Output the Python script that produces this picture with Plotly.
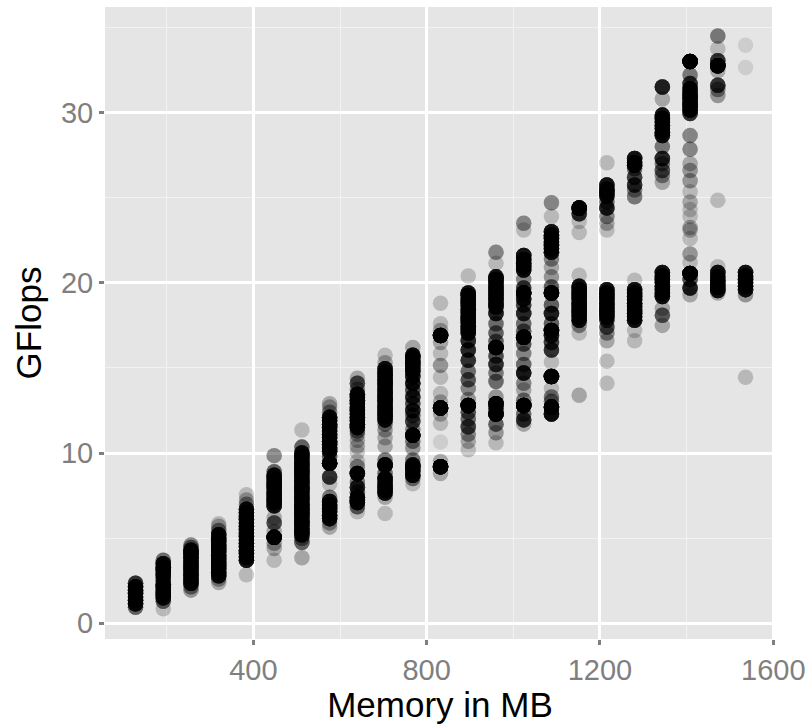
import plotly.graph_objects as go

X_TICKS = [400, 800, 1200, 1600]
Y_TICKS = [0, 10, 20, 30]

# Each column of the chart: GFlops levels, and how many configurations sit at each level.
Y_128 = [0.95, 1.15, 1.35, 1.55, 1.75, 1.95, 2.15, 2.35]
N_128 = [8, 22, 22, 22, 22, 22, 22, 14]
Y_192 = [0.85, 1.3, 1.5, 1.7, 1.9, 2.1, 2.3, 2.5, 2.7, 2.9, 3.1, 3.3, 3.5, 3.7]
N_192 = [2, 8, 22, 22, 22, 22, 22, 12, 12, 22, 22, 22, 22, 7]
Y_256 = [1.95, 2.15, 2.35, 2.55, 2.75, 2.95, 3.15, 3.35, 3.55, 3.75, 3.95, 4.15, 4.3, 4.45, 4.6]
N_256 = [4, 6, 22, 22, 22, 22, 22, 22, 22, 22, 22, 22, 22, 7, 5]
Y_320 = [2.4, 2.6, 2.8, 3.0, 3.2, 3.4, 3.6, 3.8, 4.0, 4.2, 4.4, 4.6, 4.8, 5.0, 5.2, 5.45, 5.7, 5.85]
N_320 = [3, 4, 22, 22, 22, 22, 22, 22, 22, 22, 22, 22, 22, 22, 22, 6, 3, 2]
Y_384 = [2.85, 3.7, 3.9, 4.1, 4.3, 4.5, 4.7, 4.9, 5.1, 5.3, 5.5, 5.7, 5.9, 6.1, 6.3, 6.5, 6.7, 7.0, 7.25, 7.55]
N_384 = [2, 22, 22, 22, 22, 22, 22, 22, 22, 22, 22, 22, 22, 22, 22, 22, 22, 5, 3, 2]
Y_448 = [3.7, 4.4, 4.7, 5.05, 5.4, 5.9, 6.2, 6.9, 7.1, 7.3, 7.5, 7.7, 7.9, 8.1, 8.3, 8.5, 8.7, 8.9, 9.85]
N_448 = [2, 3, 4, 44, 3, 10, 3, 22, 22, 22, 22, 22, 22, 22, 22, 22, 22, 8, 5]
Y_512 = [3.85, 4.75, 5.0, 5.2, 5.4, 5.6, 5.8, 6.0, 6.2, 6.4, 6.6, 6.8, 7.0, 7.2, 7.4, 7.6, 7.8, 8.0, 8.2, 8.4, 8.6, 8.8, 9.0, 9.2, 9.4, 9.6, 9.8, 10.0, 10.35, 11.35]
N_512 = [3, 8, 6, 22, 22, 22, 22, 22, 22, 22, 22, 22, 22, 22, 22, 22, 22, 22, 22, 22, 22, 22, 22, 22, 22, 22, 22, 22, 8, 2]
Y_576 = [5.65, 5.9, 6.15, 6.35, 6.55, 6.75, 6.95, 7.15, 7.4, 8.2, 8.6, 9.4, 9.8, 10.1, 10.3, 10.5, 10.7, 10.9, 11.1, 11.3, 11.5, 11.7, 11.9, 12.1, 12.4, 12.7, 12.9]
N_576 = [3, 4, 22, 22, 22, 22, 22, 22, 6, 2, 14, 40, 8, 22, 22, 22, 22, 22, 22, 22, 22, 22, 22, 22, 5, 3, 3]
Y_640 = [6.55, 6.85, 7.1, 7.25, 7.4, 7.7, 8.0, 8.3, 8.8, 9.2, 9.5, 10.05, 10.4, 10.75, 11.1, 11.3, 11.5, 11.7, 11.9, 12.1, 12.3, 12.5, 12.7, 12.9, 13.1, 13.3, 13.45, 13.75, 14.1, 14.4]
N_640 = [2, 8, 24, 24, 24, 8, 16, 6, 30, 5, 2, 2, 3, 3, 4, 7, 22, 22, 22, 22, 22, 22, 22, 22, 22, 22, 22, 5, 10, 3]
Y_704 = [6.45, 7.4, 7.65, 7.85, 8.05, 8.25, 8.5, 8.8, 9.3, 9.6, 10.4, 10.9, 11.35, 11.7, 11.95, 12.15, 12.35, 12.55, 12.75, 12.95, 13.15, 13.35, 13.55, 13.75, 13.95, 14.15, 14.35, 14.55, 14.75, 14.95, 15.3, 15.75]
N_704 = [2, 3, 22, 22, 22, 22, 30, 7, 40, 6, 3, 3, 4, 5, 22, 22, 22, 22, 22, 22, 22, 22, 22, 22, 22, 22, 22, 22, 22, 22, 3, 2]
Y_768 = [8.2, 8.5, 8.7, 8.95, 9.15, 9.3, 9.6, 10.3, 10.7, 11.05, 11.4, 11.85, 12.2, 12.5, 12.9, 13.3, 13.7, 14.1, 14.5, 14.8, 15.0, 15.2, 15.4, 15.6, 15.75, 16.2]
N_768 = [2, 6, 24, 22, 22, 24, 6, 4, 6, 40, 5, 12, 8, 16, 10, 16, 10, 20, 18, 22, 22, 22, 22, 22, 22, 3]
Y_832 = [8.8, 9.2, 9.5, 10.65, 11.75, 12.3, 12.65, 13.0, 13.5, 14.45, 15.15, 15.85, 16.5, 16.9, 17.2, 17.6, 18.8]
N_832 = [3, 50, 3, 1, 2, 3, 50, 3, 2, 2, 4, 2, 3, 50, 3, 2, 2]
Y_896 = [10.2, 10.7, 11.1, 11.55, 12.0, 12.4, 12.8, 13.15, 13.8, 14.3, 14.8, 15.45, 16.05, 16.6, 17.05, 17.25, 17.45, 17.65, 17.85, 18.05, 18.25, 18.45, 18.65, 18.85, 19.05, 19.25, 19.4, 20.4]
N_896 = [2, 3, 5, 12, 7, 9, 50, 4, 5, 9, 7, 14, 16, 16, 22, 22, 22, 22, 22, 22, 22, 22, 22, 22, 22, 22, 22, 2]
Y_960 = [10.6, 11.2, 11.7, 12.3, 12.6, 12.9, 13.3, 14.2, 14.7, 15.2, 15.7, 16.2, 16.55, 17.05, 17.6, 18.2, 18.6, 18.8, 19.0, 19.2, 19.4, 19.6, 19.8, 20.0, 20.2, 20.35, 21.15, 21.8]
N_960 = [2, 4, 8, 40, 16, 40, 4, 7, 6, 14, 10, 44, 8, 8, 7, 18, 22, 22, 22, 22, 22, 22, 22, 22, 22, 22, 2, 5]
Y_1024 = [11.7, 11.95, 12.3, 12.8, 13.1, 13.7, 14.1, 14.7, 15.2, 15.85, 16.4, 16.8, 17.15, 17.6, 18.2, 18.7, 19.05, 19.4, 19.7, 20.2, 20.75, 20.95, 21.15, 21.35, 21.6, 23.1, 23.5]
N_1024 = [3, 14, 7, 50, 6, 3, 5, 20, 7, 5, 9, 44, 8, 7, 16, 12, 20, 44, 12, 5, 22, 22, 22, 22, 22, 2, 5]
Y_1088 = [12.3, 12.7, 13.05, 13.3, 13.8, 14.5, 15.35, 16.05, 16.5, 16.9, 17.2, 17.6, 18.2, 18.7, 19.4, 19.75, 20.35, 20.9, 21.4, 21.8, 22.0, 22.2, 22.4, 22.6, 22.8, 23.0, 23.9, 24.7]
N_1088 = [26, 44, 6, 6, 2, 50, 2, 14, 12, 18, 40, 8, 18, 8, 50, 8, 4, 3, 5, 22, 22, 22, 22, 22, 22, 22, 2, 5]
Y_1152 = [13.4, 17.05, 17.5, 17.8, 18.0, 18.2, 18.4, 18.6, 18.8, 19.0, 19.2, 19.4, 19.6, 19.8, 20.45, 22.95, 23.6, 24.05, 24.4]
N_1152 = [3, 2, 5, 22, 22, 22, 22, 22, 22, 22, 22, 22, 22, 22, 2, 2, 2, 16, 44]
Y_1216 = [14.1, 15.4, 16.6, 17.05, 17.4, 17.8, 18.0, 18.2, 18.4, 18.6, 18.8, 19.0, 19.2, 19.4, 19.6, 23.1, 23.5, 23.9, 24.4, 24.75, 25.1, 25.3, 25.5, 25.75, 27.05]
N_1216 = [2, 2, 3, 5, 10, 12, 22, 22, 22, 22, 22, 22, 22, 22, 22, 2, 3, 5, 18, 7, 22, 22, 22, 22, 2]
Y_1280 = [16.6, 17.2, 17.8, 18.0, 18.2, 18.4, 18.6, 18.8, 19.0, 19.2, 19.4, 19.6, 20.15, 25.05, 25.45, 25.75, 26.2, 26.7, 26.9, 27.05, 27.3]
N_1280 = [2, 2, 22, 22, 22, 22, 22, 22, 22, 22, 22, 22, 2, 6, 5, 14, 12, 7, 22, 22, 22]
Y_1344 = [17.5, 18.1, 18.5, 19.2, 19.4, 19.6, 19.8, 20.0, 20.2, 20.4, 20.6, 25.9, 26.3, 26.6, 27.0, 27.3, 28.0, 28.65, 28.85, 29.05, 29.25, 29.45, 29.65, 29.85, 30.8, 31.5]
N_1344 = [3, 9, 3, 22, 22, 22, 22, 22, 22, 22, 22, 3, 5, 9, 6, 16, 6, 22, 22, 22, 22, 22, 22, 22, 3, 18]
Y_1408 = [19.3, 19.7, 20.2, 20.55, 21.2, 21.7, 22.6, 23.1, 23.25, 23.9, 24.3, 24.75, 25.35, 26.0, 26.6, 27.0, 27.85, 28.65, 29.95, 30.15, 30.35, 30.55, 30.75, 30.95, 31.15, 31.4, 31.7, 32.2, 33.0]
N_1408 = [3, 18, 10, 50, 2, 4, 2, 3, 3, 2, 2, 3, 2, 4, 4, 3, 5, 5, 14, 22, 22, 22, 22, 22, 22, 22, 14, 6, 50]
Y_1472 = [19.4, 19.55, 19.75, 19.95, 20.15, 20.35, 20.6, 20.95, 24.85, 31.0, 31.35, 31.6, 32.45, 32.75, 33.05, 33.75, 34.5]
N_1472 = [3, 22, 22, 22, 22, 22, 22, 2, 2, 4, 5, 14, 3, 50, 14, 2, 6]
Y_1536 = [14.45, 19.3, 19.6, 19.8, 20.0, 20.2, 20.4, 20.6, 32.65, 33.95]
N_1536 = [2, 4, 22, 22, 22, 22, 22, 22, 1, 1]

COLUMNS = [
    (128, Y_128, N_128), (192, Y_192, N_192), (256, Y_256, N_256), (320, Y_320, N_320),
    (384, Y_384, N_384), (448, Y_448, N_448), (512, Y_512, N_512), (576, Y_576, N_576),
    (640, Y_640, N_640), (704, Y_704, N_704), (768, Y_768, N_768), (832, Y_832, N_832),
    (896, Y_896, N_896), (960, Y_960, N_960), (1024, Y_1024, N_1024), (1088, Y_1088, N_1088),
    (1152, Y_1152, N_1152), (1216, Y_1216, N_1216), (1280, Y_1280, N_1280), (1344, Y_1344, N_1344),
    (1408, Y_1408, N_1408), (1472, Y_1472, N_1472), (1536, Y_1536, N_1536),
]

xs, ys = [], []
for mem, levels, counts in COLUMNS:
    for level, count in zip(levels, counts):
        xs += [mem] * count
        ys += [level] * count

GRID = "#ffffff"
MINOR = "#f2f2f2"
TICK = "#7f7f7f"
FONT = "Liberation Sans"

fig = go.Figure(go.Scatter(
    x=xs, y=ys, mode="markers",
    marker=dict(size=15.5, color="#000000", opacity=0.1, line=dict(width=0)),
    hoverinfo="skip",
))

fig.update_layout(
    width=806, height=724,
    margin=dict(l=105, r=31, t=7, b=85, autoexpand=False),
    paper_bgcolor="#ffffff", plot_bgcolor="#e5e5e5",
    showlegend=False,
    font=dict(family=FONT),
)
fig.update_xaxes(
    range=[57.5, 1604], tickmode="array", tickvals=X_TICKS, ticktext=[str(v) for v in X_TICKS],
    automargin=False,
    showgrid=True, gridcolor=GRID, gridwidth=2.5, zeroline=False, showline=False,
    ticks="outside", ticklen=5, tickwidth=2.5, tickcolor=TICK,
    tickfont=dict(family=FONT, size=29, color=TICK),
    title=dict(text="Memory in MB", font=dict(family=FONT, size=35, color="#000000"), standoff=2),
    minor=dict(tickmode="array", tickvals=[200, 600, 1000, 1400], showgrid=True, gridcolor=MINOR, gridwidth=1.2, ticks=""),
)
fig.update_yaxes(
    range=[-0.92, 36.2], tickmode="array", tickvals=Y_TICKS, ticktext=[str(v) for v in Y_TICKS],
    automargin=False,
    showgrid=True, gridcolor=GRID, gridwidth=2.5, zeroline=False, showline=False,
    ticks="outside", ticklen=5, tickwidth=2.5, tickcolor=TICK,
    tickfont=dict(family=FONT, size=29, color=TICK),
    title=dict(text="GFlops", font=dict(family=FONT, size=35, color="#000000"), standoff=8),
    minor=dict(tickmode="array", tickvals=[5, 15, 25, 35], showgrid=True, gridcolor=MINOR, gridwidth=1.2, ticks=""),
)

fig.write_html(
    "out.html",
    config={"displayModeBar": False},
    post_script="document.body.style.margin='0';document.body.style.overflow='hidden';",
)
